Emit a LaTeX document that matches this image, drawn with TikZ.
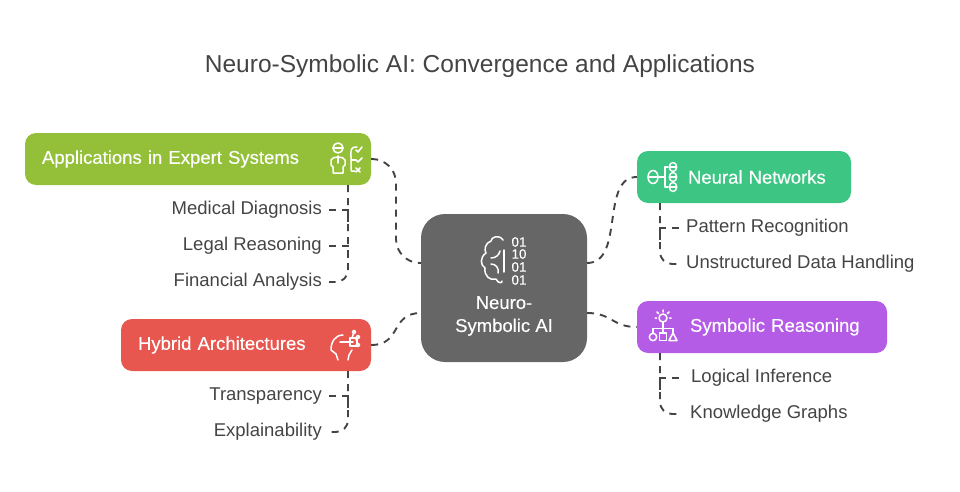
\documentclass[tikz,border=0pt]{standalone}
\usepackage{fontspec}
\setmainfont{Liberation Sans}
\newfontfamily\boxfont[FakeBold=0.25]{Liberation Sans}
\usetikzlibrary{arrows.meta, positioning}
\definecolor{mygreen}{RGB}{147, 192, 56}
\definecolor{myteal}{RGB}{60, 197, 131}
\definecolor{mypurple}{RGB}{181, 92, 230}
\definecolor{myred}{RGB}{232, 86, 80}
\definecolor{mygray}{RGB}{102, 102, 102}
\definecolor{myink}{RGB}{68, 68, 68}

\begin{document}
\begin{tikzpicture}[x=1pt, y=-1pt,
            % Set global font size for consistency
            font=\fontsize{18.5}{22}\selectfont,
            % Define reusable styles for different elements of the plot
            box/.style={rounded corners=11pt, minimum height=52pt, inner ysep=0pt, inner xsep=17pt, align=left, text=white, font=\fontsize{18.5}{22}\boxfont},
            leaf/.style={text=myink, inner xsep=7pt, inner ysep=0pt},
            link/.style={draw=myink, line width=1.9pt, dash pattern=on 7pt off 6pt},
            icon/.style={draw=white, line width=1.5pt, line cap=round, line join=round}
        ]
        \useasboundingbox (0, 0) rectangle (960, 492);

        \node[text=myink, font=\fontsize{24.5}{28}\selectfont] (title) at (480, 66) {Neuro-Symbolic AI: Convergence and Applications};

        % Central block and the four coloured boxes
        \node[fill=mygray, rounded corners=24pt, minimum width=166pt, minimum height=148pt] (core) at (504, 288) {};
        \node[text=white, align=center, font=\fontsize{18.5}{23}\boxfont] (coretext) at (504, 316) {Neuro-\\Symbolic AI};

        \node[box, fill=mygreen, text width=312pt] (apps) at (198, 159) {Applications in Expert Systems};
        \node[box, fill=myred, text width=216pt] (hybrid) at (246, 345) {Hybrid Architectures};
        \node[box, fill=myteal, text width=180pt] (neural) at (744, 177) {\hspace*{34pt}Neural Networks};
        \node[box, fill=mypurple, text width=216pt] (symbolic) at (762, 327) {\hspace*{36pt}Symbolic Reasoning};

        % Leaves, hanging off the boxes
        \node[leaf, anchor=east] (medical) at (329, 210) {Medical Diagnosis};
        \node[leaf, anchor=east] (legal) at (329, 246) {Legal Reasoning};
        \node[leaf, anchor=east] (financial) at (329, 282) {Financial Analysis};
        \node[leaf, anchor=east] (transparency) at (329, 396) {Transparency};
        \node[leaf, anchor=east] (explain) at (329, 432) {Explainability};
        \node[leaf, anchor=west] (pattern) at (679, 228) {Pattern Recognition};
        \node[leaf, anchor=west] (unstructured) at (679, 264) {Unstructured Data Handling};
        \node[leaf, anchor=west, inner xsep=12pt] (logical) at (679, 378) {Logical Inference};
        \node[leaf, anchor=west, inner xsep=11pt] (knowledge) at (679, 414) {Knowledge Graphs};

        \coordinate (coreA) at (421, 263);
        \coordinate (coreB) at (421, 313);
        \coordinate (coreC) at (587, 263);
        \coordinate (coreD) at (587, 313);
        \coordinate (appsdrop) at (348, 185);
        \coordinate (hybriddrop) at (348, 371);
        \coordinate (neuraldrop) at (660, 203);
        \coordinate (symbolicdrop) at (660, 353);

        % Connectors to the central block
        \draw[link, rounded corners=24pt] (apps.east) -| (396, 211) |- (coreA);
        \draw[link] (hybrid.east) .. controls (402, 345) and (390, 313) .. (coreB);
        \draw[link] (coreC) .. controls (625, 263) and (600, 177) .. (neural.west);
        \draw[link] (coreD) .. controls (612, 313) and (612, 327) .. (symbolic.west);

        % Connectors to the leaves
        \draw[link, rounded corners=12pt] (appsdrop) |- (financial.east);
        \draw[link] (medical.east) -| (348, 222);
        \draw[link] (legal.east) -| (348, 258);
        \draw[link, rounded corners=12pt] (hybriddrop) |- (explain.east);
        \draw[link] (transparency.east) -| (348, 408);
        \draw[link, rounded corners=12pt] (neuraldrop) |- (unstructured.west);
        \draw[link] (pattern.west) -| (660, 240);
        \draw[link, rounded corners=12pt] (symbolicdrop) |- (knowledge.west);
        \draw[link] (logical.west) -| (660, 390);

        % Central icon: half a brain beside binary digits
        \draw[icon] (503, 240) .. controls (499, 234) and (491, 237) .. (491, 241)
            .. controls (485, 243) and (484, 250) .. (486, 253)
            .. controls (480, 257) and (480, 265) .. (485, 268)
            .. controls (484, 276) and (490, 281) .. (496, 279)
            .. controls (498, 284) and (503, 283) .. (502, 281);
        \draw[icon] (491, 258) .. controls (496, 258) and (499, 255) .. (500, 251);
        \draw[icon] (491, 264) .. controls (496, 264) and (499, 268) .. (498, 273);
        \draw[icon] (504, 250) -- (504, 272);
        \foreach \i/\bits in {242/01, 254/10, 267/01, 280/01} {
            \node[text=white, inner sep=0pt, font=\fontsize{13.5}{14}\boxfont] (bits\i) at (519, \i) {\bits};
        }

        % Expert icon
        \draw[icon] (338, 148) circle (5);
        \draw[icon] (333, 148) -- (343, 148);
        \draw[icon] (333, 173) -- (333, 167) -- (331, 165) -- (331, 160) .. controls (332, 156) and (344, 156) .. (345, 160) -- (345, 165) -- (343, 167) -- (343, 173) -- cycle;
        \draw[icon] (338, 156) -- (338, 163);
        \draw[icon] (357, 147) .. controls (350, 147) and (351, 150) .. (351, 157) -- (351, 170) .. controls (351, 172) and (352, 171) .. (355, 171);
        \draw[icon] (351, 160) -- (356, 160);
        \draw[icon] (356, 150) -- (358, 152) -- (362, 147);
        \draw[icon] (356, 160) -- (358, 162) -- (362, 158);
        \draw[icon] (356, 168) -- (360, 172) (360, 168) -- (356, 172);

        % Hybrid icon
        \draw[icon] (343, 335) .. controls (335, 335) and (331, 342) .. (331, 350) -- (336, 354) -- (338, 360);
        \draw[icon] (348, 360) -- (349, 355) -- (352, 350);
        \draw[icon] (340, 342) -- (353, 342);
        \draw[icon] (350, 338) rectangle (357, 346);
        \draw[icon] (352, 338) -- (354, 332) (356, 340) -- (357, 337) (356, 345) -- (357, 345);
        \draw[icon, fill=myred] (354, 332) circle (1.7) (358, 337) circle (1.7) (358, 345) circle (1.7);

        % Neural icon
        \draw[icon] (653, 177) ellipse (5 and 6.5);
        \draw[icon] (648, 177) -- (658, 177);
        \draw[icon] (659, 177) -- (664, 177);
        \draw[icon] (668, 167) -- (665, 167) -- (665, 187) -- (668, 187);
        \foreach \cy in {167, 177, 187} {
            \draw[icon] (673, \cy) ellipse (3.7 and 4.5);
            \draw[icon] (669.5, \cy) -- (676.5, \cy);
        }

        % Symbolic icon
        \draw[icon] (663, 318) circle (4);
        \draw[icon] (663, 322) -- (663, 332) (653, 333) -- (653, 328.5) -- (673, 328.5) -- (673, 333);
        \draw[icon] (663, 310) -- (663, 312) (655, 318) -- (656.5, 318) (671, 318) -- (669.5, 318) (657, 312) -- (658.5, 313.5) (669, 312) -- (667.5, 313.5);
        \draw[icon] (653, 337) circle (3.7);
        \draw[icon] (659.5, 333) rectangle (666.5, 340.5);
        \draw[icon] (669, 340.5) -- (673, 333) -- (677, 340.5) -- cycle;
\end{tikzpicture}
\end{document}
